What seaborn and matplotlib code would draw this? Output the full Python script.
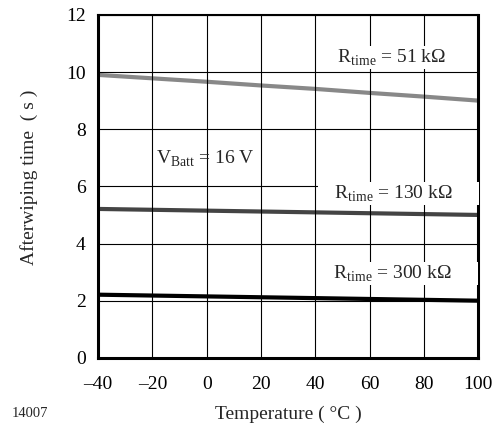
import matplotlib
matplotlib.use("Agg")
import matplotlib.pyplot as plt
import seaborn as sns
import pandas as pd

# temperature points (°C)
temperature = [-40, -20, 0, 20, 40, 60, 80, 100]
t_51k = [9.90, 9.78, 9.66, 9.53, 9.41, 9.27, 9.14, 9.00]
t_130k = [5.21, 5.18, 5.15, 5.12, 5.09, 5.06, 5.03, 5.00]
t_300k = [2.21, 2.18, 2.15, 2.12, 2.09, 2.06, 2.03, 2.00]

series_names = ["R51", "R130", "R300"]
series_colors = ["#888888", "#444444", "#000000"]
x_ticks = [-40, -20, 0, 20, 40, 60, 80, 100]
x_labels = ["\u201340", "\u201320", "0", "20", "40", "60", "80", "100"]
y_ticks = [0, 2, 4, 6, 8, 10, 12]

df = pd.DataFrame({
    "Temperature": temperature * 3,
    "Time": t_51k + t_130k + t_300k,
    "Series": [n for n in series_names for _ in temperature],
})

sns.set_style("white")
plt.rcParams["font.family"] = ["Liberation Serif", "DejaVu Serif"]
plt.rcParams["mathtext.fontset"] = "custom"
plt.rcParams["mathtext.rm"] = "Liberation Serif"

fig = plt.figure(figsize=(4.93, 4.25), dpi=100)
ax = fig.add_axes([0.199, 0.158, 0.771, 0.807])

sns.lineplot(data=df, x="Temperature", y="Time", hue="Series",
             palette=dict(zip(series_names, series_colors)),
             linewidth=3.0, legend=False, ax=ax, zorder=2)

ax.set_xlim(-40, 100)
ax.set_ylim(0, 12)
ax.set_xticks(x_ticks)
ax.set_xticklabels(x_labels)
ax.set_yticks(y_ticks)
# grid sits on top of the curves in the original
ax.set_axisbelow(False)
ax.grid(True, color="black", linewidth=0.8)
ax.tick_params(axis="both", length=0, labelsize=14, colors="black")
ax.tick_params(axis="x", pad=13)
ax.tick_params(axis="y", pad=9)

for side in ["left", "bottom", "right"]:
    ax.spines[side].set_linewidth(2.2)
    ax.spines[side].set_color("black")
ax.spines["top"].set_linewidth(1.5)
ax.spines["top"].set_color("black")

ax.set_xlabel("Temperature ( \u00b0C )", fontsize=14, labelpad=9)
ax.set_ylabel("Afterwiping time  ( s )", fontsize=14)
ax.yaxis.set_label_coords(-0.158, 0.525)

# white boxes behind the curve labels break the grid and the right frame
box = dict(facecolor="white", edgecolor="none", pad=1)
ax.text(42.9, 10.5, r"   R$_{\rm time}$ = 51 kΩ      ", fontsize=14,
        ha="left", va="center", bbox=box, zorder=3)
ax.text(41.6, 5.75, r"   R$_{\rm time}$ = 130 kΩ      ", fontsize=14,
        ha="left", va="center", bbox=box, zorder=3)
ax.text(41.2, 2.95, r"   R$_{\rm time}$ = 300 kΩ      ", fontsize=14,
        ha="left", va="center", bbox=box, zorder=3)
ax.text(-0.6, 6.96, r"V$_{\rm Batt}$ = 16 V", fontsize=14,
        ha="center", va="center", zorder=3)

fig.text(0.024, 0.028, "14007", fontsize=10.5, ha="left", va="center")

fig.savefig("out.png", dpi=100)
